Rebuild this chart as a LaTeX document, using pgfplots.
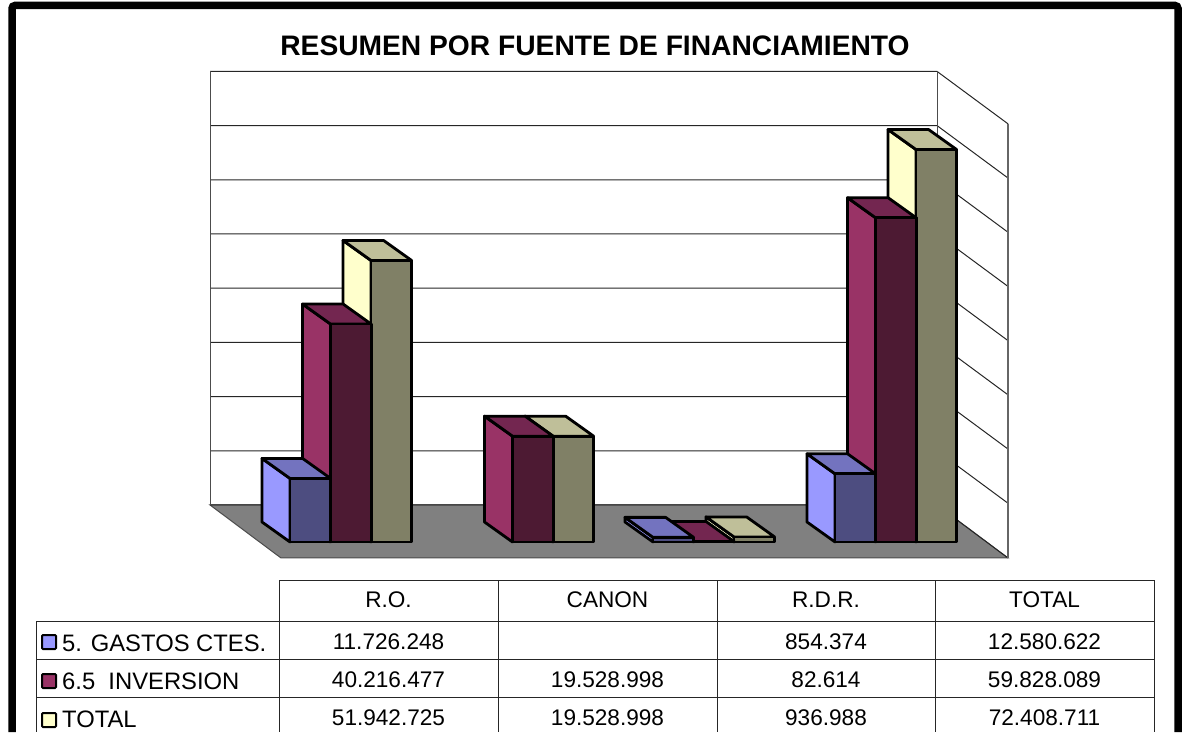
\documentclass[border=0pt]{standalone}
\usepackage{pgfplots}
\pgfplotsset{compat=1.18}
\usepackage{fontspec}
\setmainfont{Liberation Sans}
\definecolor{bfront}{HTML}{4D4D80}\definecolor{btop}{HTML}{7373BF}\definecolor{bside}{HTML}{9999FF}
\definecolor{ifront}{HTML}{4D1A33}\definecolor{itop}{HTML}{732650}\definecolor{iside}{HTML}{993366}
\definecolor{tfront}{HTML}{808066}\definecolor{ttop}{HTML}{BFBF99}\definecolor{tside}{HTML}{FFFFCC}
% x = left edge of the front face (pixels along the axis), #2 = value in millions
\newcommand\tdbar[5]{%
  \pgfmathsetmacro\xa{#1}\pgfmathsetmacro\xb{#1+40.6}%
  \pgfmathsetmacro\xc{#1-28}\pgfmathsetmacro\xd{#1+12.6}%
  \pgfmathsetmacro\vb{#2+3.69}%
  \addplot[fill=#5,draw=black,line width=2.8pt,line join=round,no marks] coordinates {(\xa,0)(\xa,#2)(\xc,\vb)(\xc,3.69)} --cycle;
  \addplot[fill=#4,draw=black,line width=2.8pt,line join=round,no marks] coordinates {(\xa,#2)(\xb,#2)(\xd,\vb)(\xc,\vb)} --cycle;
  \addplot[fill=#3,draw=black,line width=2.8pt,line join=round,no marks] coordinates {(\xa,0)(\xb,0)(\xb,#2)(\xa,#2)} --cycle;
}
\newcommand\gridl[2]{\addplot[black!85,line width=1pt,no marks] coordinates {(210,#1)(937,#1)(1008,#2)};}
\begin{document}
\begin{tikzpicture}
\useasboundingbox (0,0) rectangle (1186pt,732pt);
\begin{axis}[at={(0,0)},anchor=south west,scale only axis,width=1186pt,height=732pt,
  xmin=0,xmax=1186,ymin=-35.055,ymax=100,hide axis,clip=false]
% floor
\addplot[fill=gray,draw=black!70,line width=1pt,no marks] coordinates {(210,6.83)(937,6.83)(1008,-2.95)(281,-2.95)} --cycle;
% walls
\gridl{6.83}{-2.95}
\gridl{16.83}{7.15}
\gridl{26.83}{17.15}
\gridl{36.83}{27.15}
\gridl{46.83}{37.15}
\gridl{56.83}{47.15}
\gridl{66.83}{57.15}
\gridl{76.83}{67.15}
\gridl{86.83}{77.15}
\addplot[black!70,line width=1pt,no marks] coordinates {(210,6.83)(210,86.83)};
\addplot[black!70,line width=1pt,no marks] coordinates {(937,6.83)(937,86.83)};
\addplot[black!60,line width=1.2pt,no marks] coordinates {(1008,-2.95)(1008,77.15)};
% R.O.
\tdbar{371}{51.942725}{tfront}{ttop}{tside}
\tdbar{330.5}{40.216477}{ifront}{itop}{iside}
\tdbar{290}{11.726248}{bfront}{btop}{bside}
% CANON
\tdbar{553}{19.528998}{tfront}{ttop}{tside}
\tdbar{512.5}{19.528998}{ifront}{itop}{iside}
% R.D.R.
\tdbar{734}{0.936988}{tfront}{ttop}{tside}
\tdbar{693.5}{0.082614}{ifront}{itop}{iside}
\tdbar{653}{0.854374}{bfront}{btop}{bside}
% TOTAL
\tdbar{916}{72.408711}{tfront}{ttop}{tside}
\tdbar{875.5}{59.828089}{ifront}{itop}{iside}
\tdbar{835}{12.580622}{bfront}{btop}{bside}
\end{axis}
\begin{scope}[x=1pt,y=-1pt,shift={(0pt,732pt)}]
\draw[line width=7.5pt,rounded corners=3pt,line cap=butt] (12,732)--(12,5.5)--(1178,5.5)--(1178,732);
\node[anchor=base,font=\fontsize{28.2}{32}\selectfont\bfseries] at (595,56) {RESUMEN POR FUENTE DE FINANCIAMIENTO};
% table
\begin{scope}[black!85,line width=1pt]
\draw (279,580)--(1154,580);
\draw (36,621)--(1154,621);
\draw (36,659)--(1154,659);
\draw (36,697)--(1154,697);
\draw (36,621)--(36,732);
\draw (279,580)--(279,732);
\draw (498,580)--(498,732);
\draw (717,580)--(717,732);
\draw (935,580)--(935,732);
\draw (1154,580)--(1154,732);
\end{scope}
\tikzset{cell/.style={anchor=base,font=\fontsize{22.6}{26}\selectfont,inner sep=0pt},lab/.style={anchor=base west,font=\fontsize{23.8}{26}\selectfont,inner sep=0pt}}
\node[cell] at (388.5,607) {R.O.};
\node[cell] at (607.5,607) {CANON};
\node[cell] at (826,607) {R.D.R.};
\node[cell] at (1044.5,607) {TOTAL};
\node[cell] at (388.5,649) {11.726.248};
\node[cell] at (826,649) {854.374};
\node[cell] at (1044.5,649) {12.580.622};
\node[cell] at (388.5,687) {40.216.477};
\node[cell] at (607.5,687) {19.528.998};
\node[cell] at (826,687) {82.614};
\node[cell] at (1044.5,687) {59.828.089};
\node[cell] at (388.5,725) {51.942.725};
\node[cell] at (607.5,725) {19.528.998};
\node[cell] at (826,725) {936.988};
\node[cell] at (1044.5,725) {72.408.711};
\node[lab] at (62,651) {5. GASTOS CTES.};
\node[lab] at (62,689) {6.5\ \ INVERSION};
\node[lab] at (62,727) {TOTAL};
\draw[fill=bside,line width=2pt,rounded corners=1pt] (42,635) rectangle (56,649);
\draw[fill=iside,line width=2pt,rounded corners=1pt] (42,674) rectangle (56,688);
\draw[fill=tside,line width=2pt,rounded corners=1pt] (42,713) rectangle (56,727);
\end{scope}
\end{tikzpicture}
\end{document}
